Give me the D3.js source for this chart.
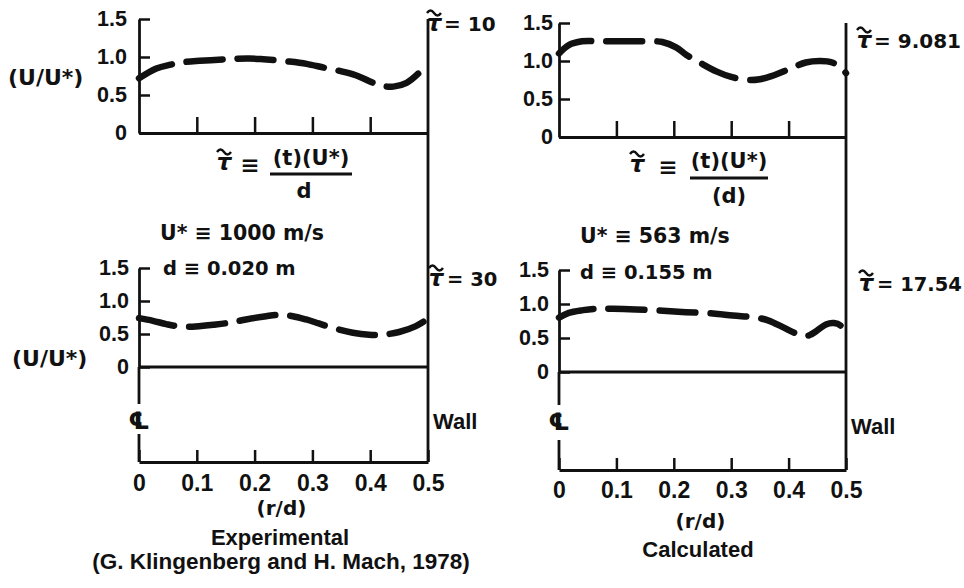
<!DOCTYPE html>
<html>
<head>
<meta charset="utf-8">
<script src="https://cdn.jsdelivr.net/npm/d3@7"></script>
<style>
body { margin: 0; background: #fff; }
text { font-weight: bold; fill: #111; }
.sans { font-family: "Liberation Sans", Arial, sans-serif; }
.wide { font-family: "DejaVu Sans", sans-serif; }
</style>
</head>
<body>
<svg id="chart" width="964" height="588"></svg>
<script>
// axis ticks
var rdTicks = [0, 0.1, 0.2, 0.3, 0.4, 0.5];
var rdTickLabels = ["0", "0.1", "0.2", "0.3", "0.4", "0.5"];
var rdInnerTicks = [0.1, 0.2, 0.3, 0.4];
var uTicks = [0, 0.5, 1.0, 1.5];
var uTickLabels = ["0", "0.5", "1.0", "1.5"];

// velocity profiles, [r/d, U/U*]
var expTau10 = [[0, 0.72], [0.03, 0.85], [0.055, 0.90], [0.075, 0.93], [0.105, 0.95], [0.15, 0.97],
    [0.19, 0.98], [0.215, 0.97], [0.26, 0.94], [0.29, 0.91], [0.32, 0.86], [0.345, 0.82],
    [0.375, 0.76], [0.405, 0.66], [0.42, 0.62], [0.44, 0.61], [0.463, 0.66], [0.483, 0.78]];
var expTau30 = [[0, 0.74], [0.024, 0.70], [0.047, 0.65], [0.065, 0.62], [0.093, 0.61], [0.128, 0.64],
    [0.156, 0.67], [0.185, 0.72], [0.22, 0.77], [0.242, 0.79], [0.266, 0.77], [0.289, 0.72],
    [0.311, 0.66], [0.336, 0.59], [0.37, 0.52], [0.398, 0.49], [0.422, 0.49], [0.45, 0.53],
    [0.479, 0.62], [0.5, 0.73]];
var calcTau9 = [[0, 1.10], [0.017, 1.21], [0.04, 1.26], [0.07, 1.26], [0.125, 1.26], [0.15, 1.26],
    [0.18, 1.25], [0.204, 1.18], [0.222, 1.08], [0.245, 0.98], [0.275, 0.86], [0.30, 0.79],
    [0.33, 0.75], [0.35, 0.76], [0.37, 0.80], [0.40, 0.89], [0.43, 0.98], [0.455, 1.00],
    [0.476, 0.98], [0.493, 0.90], [0.5, 0.84]];
var calcTau17 = [[0, 0.80], [0.017, 0.87], [0.042, 0.91], [0.064, 0.93], [0.094, 0.93], [0.134, 0.92],
    [0.181, 0.90], [0.221, 0.88], [0.268, 0.86], [0.303, 0.83], [0.343, 0.80], [0.364, 0.76],
    [0.39, 0.66], [0.409, 0.58], [0.425, 0.53], [0.436, 0.54], [0.448, 0.60], [0.465, 0.70],
    [0.479, 0.72], [0.491, 0.68], [0.497, 0.58], [0.5, 0.50]];

var tauValues = ["10", "30", "9.081", "17.54"];

var svg = d3.select("#chart");
svg.append("rect").attr("width", 964).attr("height", 588).attr("fill", "#fff");

var ink = "#111";

//styles the d3 axis output
function inkAxis(g, textSize) {
    g.select(".domain").attr("stroke", ink).attr("stroke-width", 2.8);
    g.selectAll(".tick line").attr("stroke", ink).attr("stroke-width", 2.5);
    g.selectAll(".tick text").attr("class", "sans").attr("fill", ink)
        .style("font-size", textSize + "px");
}

function vline(x, y1, y2) {
    svg.append("line").attr("x1", x).attr("x2", x).attr("y1", y1).attr("y2", y2)
        .attr("stroke", ink).attr("stroke-width", 2.8);
}

function hline(x1, x2, y) {
    svg.append("line").attr("x1", x1).attr("x2", x2).attr("y1", y).attr("y2", y)
        .attr("stroke", ink).attr("stroke-width", 2.8);
}

function label(x, y, str, cls, size, anchor) {
    return svg.append("text").attr("class", cls).attr("x", x).attr("y", y)
        .attr("text-anchor", anchor || "start").style("font-size", size + "px").text(str);
}

//tau with a tilde over it, cx = centre, by = baseline
function tau(cx, by) {
    label(cx, by, "τ", "wide", 23, "middle").style("font-style", "italic");
    svg.append("path")
        .attr("d", "M" + (cx - 7) + "," + (by - 18) + " q3.5,-5 7,0 t7,0")
        .attr("fill", "none").attr("stroke", ink).attr("stroke-width", 2.4);
}

function profile(data, x, y) {
    var line = d3.line()
        .x(function(d){ return x(d[0]); })
        .y(function(d){ return y(d[1]); })
        .curve(d3.curveCatmullRom);
    svg.append("path").datum(data)
        .attr("d", line)
        .attr("fill", "none")
        .attr("stroke", ink)
        .attr("stroke-width", 6.5)
        .attr("stroke-linecap", "round")
        .attr("stroke-dasharray", "36,15");
}

function drawPanel(p, topData, botData, topTau, botTau) {
    var x = d3.scaleLinear().domain([0, 0.5]).range([p.x0, p.x1]);
    var yTop = d3.scaleLinear().domain([0, 1.5]).range([p.topZero, p.topMax]);
    var yBot = d3.scaleLinear().domain([0, 1.5]).range([p.botZero, p.botMax]);

    // top plot
    svg.append("g").attr("transform", "translate(" + p.x0 + ",0)")
        .call(d3.axisLeft(yTop).tickValues(uTicks)
            .tickFormat(function(d, i){ return uTickLabels[i]; })
            .tickSizeInner(-11).tickSizeOuter(0).tickPadding(p.topPad))
        .call(inkAxis, 21.5);
    svg.append("g").attr("transform", "translate(0," + p.topZero + ")")
        .call(d3.axisTop(x).tickValues(rdInnerTicks).tickFormat("")
            .tickSizeInner(16).tickSizeOuter(0))
        .call(inkAxis, 21);

    // bottom plot
    svg.append("g").attr("transform", "translate(" + p.x0 + ",0)")
        .call(d3.axisLeft(yBot).tickValues(uTicks)
            .tickFormat(function(d, i){ return uTickLabels[i]; })
            .tickSizeInner(-11).tickSizeOuter(0).tickPadding(10))
        .call(inkAxis, 21.5);
    hline(x(0), x(0.5), yBot(0));
    vline(p.x0, yBot(0), p.clTop);
    vline(p.x0, p.clBottom, p.axisY);
    svg.append("g").attr("transform", "translate(0," + p.axisY + ")")
        .call(d3.axisBottom(x).tickValues(rdTicks)
            .tickFormat(function(d, i){ return rdTickLabels[i]; })
            .tickSizeInner(-12).tickSizeOuter(0).tickPadding(p.labelPad))
        .call(inkAxis, 23);

    // wall
    vline(p.x1, yTop(1.5), p.axisY);

    // centre line mark
    label(p.x0, p.clTop + 25, "℄", "wide", 24, "middle");

    profile(topData, x, yTop);
    profile(botData, x, yBot);

    tau(p.tauX, p.tauTopY);
    label(p.tauX + 10, p.tauTopY, "= " + topTau, "wide", 20);
    tau(p.tauX + 2, p.tauBotY);
    label(p.tauX + 13, p.tauBotY, "= " + botTau, "wide", 19.5);

    label(p.x1 + 5, p.wallY, "Wall", "sans", 22);
    label((p.x0 + p.x1) / 2 - 2, p.rdY, "(r/d)", "wide", 20, "middle");
}

var left = {x0: 139, x1: 428, topZero: 133, topMax: 19, botZero: 367, botMax: 268,
    axisY: 462, clTop: 404, clBottom: 434, topPad: 12, labelPad: 13,
    tauX: 434, tauTopY: 31, tauBotY: 286, wallY: 429, rdY: 515};
var right = {x0: 559, x1: 846, topZero: 137, topMax: 23, botZero: 372, botMax: 270,
    axisY: 470, clTop: 405, clBottom: 440, topPad: 6, labelPad: 12,
    tauX: 864, tauTopY: 48, tauBotY: 291, wallY: 434, rdY: 528};

drawPanel(left, expTau10, expTau30, tauValues[0], tauValues[1]);
drawPanel(right, calcTau9, calcTau17, tauValues[2], tauValues[3]);

// y labels
label(8, 85, "(U/U*)", "wide", 22);
label(12, 366, "(U/U*)", "wide", 22);

// definition of tau, left
tau(224, 170);
label(250, 173, "≡", "wide", 23, "middle");
label(311, 165, "(t)(U*)", "wide", 21, "middle");
hline(270, 352, 174);
label(304, 198, "d", "wide", 21, "middle");

// definition of tau, right
tau(637, 172);
label(668, 175, "≡", "wide", 23, "middle");
label(729, 168, "(t)(U*)", "wide", 21, "middle");
hline(690, 768, 178);
label(729, 203, "(d)", "wide", 21, "middle");

// run conditions
label(160, 240, "U* ≡ 1000 m/s", "wide", 20.5);
label(163, 275, "d ≡ 0.020 m", "wide", 19.5);
label(580, 243, "U* ≡ 563 m/s", "wide", 20.5);
label(580, 279, "d ≡ 0.155 m", "wide", 19.5);

// captions
label(280, 545, "Experimental", "sans", 22, "middle");
label(281, 569, "(G. Klingenberg and H. Mach, 1978)", "sans", 22.5, "middle");
label(698, 557, "Calculated", "sans", 22, "middle");
</script>
</body>
</html>
